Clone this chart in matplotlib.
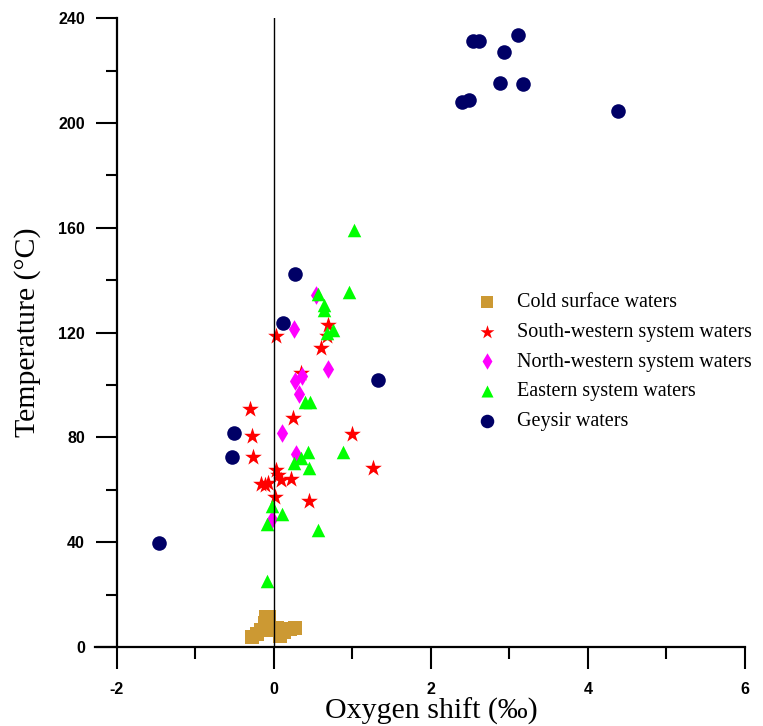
import matplotlib
matplotlib.use("Agg")
import matplotlib.pyplot as plt
from matplotlib.ticker import MultipleLocator

plt.rcParams['axes.unicode_minus'] = False

# data (oxygen shift in permil, temperature in C)

cold_x = [-0.28, -0.22, -0.17, -0.11, -0.10, -0.06, -0.04, 0.04, 0.08, 0.13, 0.20, 0.27]
cold_y = [3.8, 5.0, 6.5, 9.2, 11.5, 11.5, 6.5, 7.3, 4.2, 5.7, 6.9, 7.3]

sw_x = [0.03, 0.69, 0.68, 0.60, 0.34, -0.30, 0.24, -0.28, 0.99, -0.27, 1.26, 0.03,
        0.05, 0.09, 0.22, -0.17, -0.12, -0.07, 0.01, 0.45]
sw_y = [118.8, 123.0, 118.8, 114.1, 104.6, 90.8, 87.4, 80.4, 81.4, 72.7, 68.3, 67.6,
        65.7, 63.8, 64.1, 62.3, 62.0, 62.5, 57.2, 55.8]

nw_x = [0.54, 0.26, 0.69, 0.36, 0.27, 0.32, 0.10, 0.28, -0.03]
nw_y = [134.5, 121.4, 106.1, 103.6, 101.4, 96.7, 81.7, 73.6, 48.8]

east_x = [1.02, 0.56, 0.96, 0.64, 0.64, 0.75, 0.68, 0.39, 0.46, 0.43, 0.88, 0.34,
          0.25, 0.45, -0.03, 0.10, -0.09, 0.56, -0.09]
east_y = [159.0, 134.9, 135.5, 130.7, 128.5, 121.1, 119.8, 93.4, 93.6, 74.6, 74.6, 72.3,
          70.4, 68.5, 53.9, 50.8, 47.0, 44.7, 25.2]

gey_x = [2.535, 2.61, 3.11, 2.93, 2.88, 3.17, 2.39, 2.48, 4.38,
         -1.47, -0.51, -0.54, 0.27, 0.12, 1.32]
gey_y = [231.2, 231.2, 233.5, 227.0, 215.1, 214.7, 207.9, 208.6, 204.4,
         39.6, 81.7, 72.7, 142.5, 123.7, 102.0]

labels = ["Cold surface waters", "South-western system waters",
          "North-western system waters", "Eastern system waters", "Geysir waters"]

# plot

fig = plt.figure(figsize=(7.63, 7.26), dpi=100)
ax = fig.add_axes([0.1533, 0.1088, 0.8231, 0.8662])

ax.scatter(cold_x, cold_y, marker="s", s=110, color="#cc9933", linewidths=0, label=labels[0], zorder=3)
ax.scatter(sw_x, sw_y, marker="*", s=160, color="red", linewidths=0, label=labels[1], zorder=3)
ax.scatter(nw_x, nw_y, marker="d", s=90, color="#ff00ff", linewidths=0, label=labels[2], zorder=3)
ax.scatter(east_x, east_y, marker="^", s=95, color="#00ff00", linewidths=0, label=labels[3], zorder=3)
ax.scatter(gey_x, gey_y, marker="o", s=110, color="#000066", linewidths=0, label=labels[4], zorder=3)

ax.axvline(0, color="black", lw=1.0, zorder=4)

ax.set_xlim(-2, 6)
ax.set_ylim(0, 240)
ax.xaxis.set_major_locator(MultipleLocator(2))
ax.xaxis.set_minor_locator(MultipleLocator(1))
ax.yaxis.set_major_locator(MultipleLocator(40))
ax.yaxis.set_minor_locator(MultipleLocator(20))

for s in ["top", "right", "bottom"]:
    ax.spines[s].set_visible(False)
ax.spines["left"].set_linewidth(1.6)
ax.plot([-2.28, 6], [0, 0], color="black", lw=1.6, clip_on=False, zorder=5)

ax.tick_params(axis="y", which="major", direction="out", length=15, width=1.5, pad=8)
ax.tick_params(axis="y", which="minor", direction="out", length=8, width=1.5)
ax.tick_params(axis="x", which="major", direction="out", length=16, width=1.5, pad=9)
ax.tick_params(axis="x", which="minor", direction="out", length=8.5, width=1.5)
for t in ax.get_xticklabels() + ax.get_yticklabels():
    t.set_fontfamily("Liberation Sans")
    t.set_fontweight("bold")
    t.set_fontsize(11.5)

ax.set_xlabel("Oxygen shift (‰)", fontfamily="Liberation Serif", fontsize=21.5, labelpad=0.5)
ax.set_ylabel("Temperature (°C)", fontfamily="Liberation Serif", fontsize=21.5, labelpad=12)

leg = ax.legend(loc="upper left", bbox_to_anchor=(0.573, 0.563), frameon=False,
                prop={"family": "Liberation Serif", "size": 14.5}, handletextpad=1.0,
                labelspacing=0.53, handlelength=1.0, borderpad=0, borderaxespad=0,
                scatterpoints=1)
for h, sz in zip(leg.legend_handles, [85, 110, 70, 75, 95]):
    h.set_sizes([sz])

plt.savefig("out.png", dpi=100)
